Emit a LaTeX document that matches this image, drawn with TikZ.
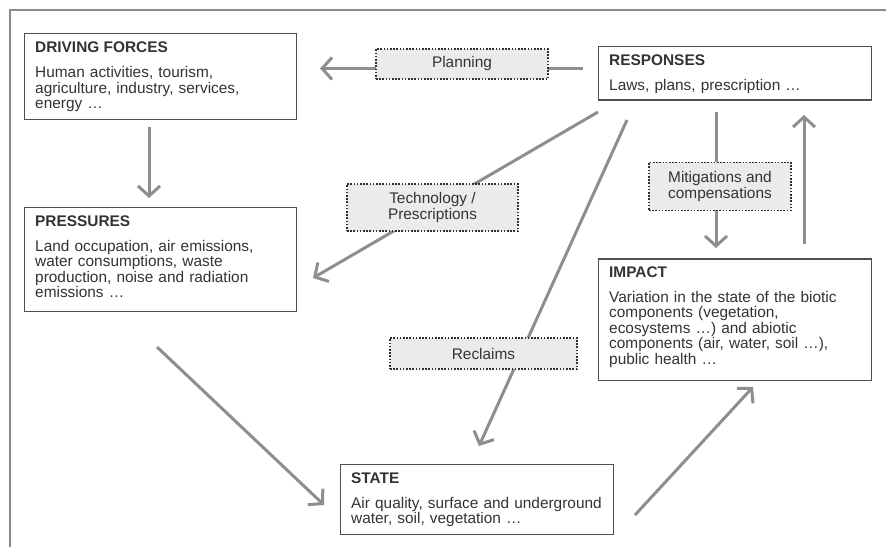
\documentclass[tikz,border=0pt]{standalone}
\usepackage{fontspec}
\setmainfont{Liberation Sans}
\usetikzlibrary{arrows.meta}

\definecolor{framec}{HTML}{8A8A8A}
\definecolor{boxc}{HTML}{4F4F4F}
\definecolor{arrc}{HTML}{8E8E8E}
\definecolor{txtc}{HTML}{333333}
\definecolor{lblfill}{HTML}{EBEBEB}
\definecolor{dotc}{HTML}{2E2E2E}

\newcommand{\dpsrfont}{\fontsize{15.4bp}{15.4bp}\selectfont}

\tikzset{
  stagebox/.style={draw=boxc, line width=1.3bp, fill=white, rectangle,
    inner sep=0pt, anchor=north west},
  stagetitle/.style={font=\dpsrfont\bfseries, text=txtc, inner sep=0pt, anchor=base west},
  stagebody/.style={font=\dpsrfont, text=txtc, inner sep=0pt, anchor=base west,
    align=left, text width=258bp},
  flowlabel/.style={draw=dotc, line width=1.8bp, dash pattern=on 1.6bp off 1.6bp,
    fill=lblfill, rectangle, inner sep=0pt, align=center,
    font=\dpsrfont, text=txtc},
  flowline/.style={draw=arrc, line width=3bp},
  flowarrow/.style={flowline, -{Straight Barb[length=10bp,width=22bp]}},
}

\begin{document}
\begin{tikzpicture}[x=1bp, y=-1bp]
  \useasboundingbox (0,0) rectangle (886,547);

  % outer frame (only top and left edges fall inside the page)
  \draw[framec, line width=2bp] (9.5,560) -- (9.5,10.3) -- (900,10.3);

  % ---- the five DPSIR stages ----
  \node[stagebox, minimum width=272bp, minimum height=86bp] (df) at (24,33) {};
  \node[stagetitle] (dft) at (35,52.3) {DRIVING FORCES};
  \node[stagebody]  (dfb) at (35,77.8)
    {Human activities, tourism,\\ agriculture, industry, services,\\ energy \dots};

  \node[stagebox, minimum width=272bp, minimum height=103.5bp] (pr) at (24,207) {};
  \node[stagetitle] (prt) at (35,226.5) {PRESSURES};
  \node[stagebody]  (prb) at (35,251.5)
    {Land occupation, air emissions,\\ water consumptions, waste\\ production, noise and radiation\\ emissions \dots};

  \node[stagebox, minimum width=273bp, minimum height=53.5bp] (re) at (598,46) {};
  \node[stagetitle] (ret) at (609,65.4) {RESPONSES};
  \node[stagebody]  (reb) at (609,90.4) {Laws, plans, prescription \dots};

  \node[stagebox, minimum width=273bp, minimum height=121bp] (im) at (598,258.5) {};
  \node[stagetitle] (imt) at (609,277.8) {IMPACT};
  \node[stagebody]  (imb) at (609,302.6)
    {Variation in the state of the biotic\\ components (vegetation,\\ ecosystems \dots) and abiotic\\ components (air, water, soil \dots),\\ public health \dots};

  \node[stagebox, minimum width=273bp, minimum height=70bp] (st) at (340,464) {};
  \node[stagetitle] (stt) at (351,483.4) {STATE};
  \node[stagebody]  (stb) at (351,508.4)
    {Air quality, surface and underground\\ water, soil, vegetation \dots};

  % ---- connector end points next to the boxes ----
  \coordinate (rePlan)  at (583,68.5);
  \coordinate (dfPlan)  at (320,68.5);
  \coordinate (dfOut)   at (149,127);
  \coordinate (prIn)    at (149,198);
  \coordinate (reTech)  at (598,112);
  \coordinate (prTech)  at (313,278);
  \coordinate (reRecl)  at (627,120);
  \coordinate (stRecl)  at (479,446);
  \coordinate (reMit)   at (716,112);
  \coordinate (imMit)   at (716,248);
  \coordinate (imUp)    at (804,244);
  \coordinate (reUp)    at (804,115);
  \coordinate (prOut)   at (157,347);
  \coordinate (stIn)    at (324,505);
  \coordinate (stOut)   at (635,515);
  \coordinate (imIn)    at (753,387);

  % ---- connectors (drawn before the labels that sit on them) ----
  \draw[flowarrow] (rePlan) -- (dfPlan);
  \draw[flowarrow] (dfOut)  -- (prIn);
  \draw[flowarrow] (reTech) -- (prTech);
  \draw[flowarrow] (reRecl) -- (stRecl);
  \draw[flowarrow] (reMit)  -- (imMit);
  \draw[flowarrow] (imUp)   -- (reUp);
  \draw[flowarrow] (prOut)  -- (stIn);
  \draw[flowarrow] (stOut)  -- (imIn);

  % ---- labels on the connectors ----
  \node[flowlabel, minimum width=172bp, minimum height=30bp] (plan) at (462,64) {Planning};
  \node[flowlabel, minimum width=171bp, minimum height=47bp] (tech) at (432.5,207.5)
    {Technology /\\ Prescriptions};
  \node[flowlabel, minimum width=142bp, minimum height=48bp] (mit) at (720,186.5)
    {Mitigations and\\ compensations};
  \node[flowlabel, minimum width=187bp, minimum height=31bp] (recl) at (483.5,353.5) {Reclaims};
\end{tikzpicture}
\end{document}
